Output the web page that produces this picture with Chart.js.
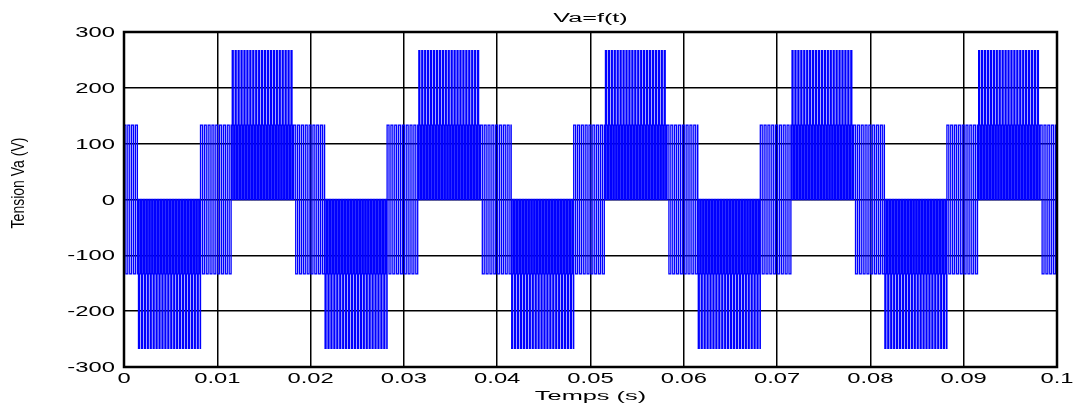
<!DOCTYPE html>
<html>
<head>
<meta charset="utf-8">
<title>Va=f(t)</title>
<script src="https://cdn.jsdelivr.net/npm/chart.js@4/dist/chart.umd.min.js"></script>
<style>
  html, body { margin: 0; padding: 0; background: #fff; }
  #wrap { width: 1074px; height: 405px; }
</style>
</head>
<body>
<div id="wrap"><canvas id="chart" width="1074" height="405"></canvas></div>
<script>
// Axis ticks and labels
const timeTicks = [0, 0.01, 0.02, 0.03, 0.04, 0.05, 0.06, 0.07, 0.08, 0.09, 0.1];
const timeLabels = ['0', '0.01', '0.02', '0.03', '0.04', '0.05', '0.06', '0.07', '0.08', '0.09', '0.1'];
const voltTicks = [-300, -200, -100, 0, 100, 200, 300];
const voltLabels = ['-300', '-200', '-100', '0', '100', '200', '300'];

// Switching sectors of the phase voltage (start time in s, kind of sector)
const sectorStart = [0, 0.0015, 0.0082, 0.01155, 0.0182, 0.0215, 0.0282, 0.03155, 0.0382,
                     0.0415, 0.0482, 0.05155, 0.0582, 0.0615, 0.0682, 0.07155, 0.0782,
                     0.0815, 0.0882, 0.09155, 0.0982];
const sectorKind = ['mid', 'neg', 'mid', 'pos', 'mid', 'neg', 'mid', 'pos', 'mid',
                    'neg', 'mid', 'pos', 'mid', 'neg', 'mid', 'pos', 'mid',
                    'neg', 'mid', 'pos', 'mid'];
const endTime = 0.1;

// Voltage levels visited in each kind of sector (V), one per switching step
const levelCycle = {
  mid: [133.3, -133.3],
  pos: [0, 266.7, 266.7, 133.3, 0, 133.3],
  neg: [0, -266.7, -266.7, -133.3, 0, -133.3]
};
// Switching step for each kind of sector (s)
const switchStep = { mid: 0.000205, pos: 0.0000525, neg: 0.0000525 };

// Step series: each point gives the level that holds from its time on
const vaPoints = [];
sectorStart.forEach((t0, i) => {
  const t1 = i + 1 < sectorStart.length ? sectorStart[i + 1] : endTime;
  const cycle = levelCycle[sectorKind[i]];
  const dt = switchStep[sectorKind[i]];
  let last = null;
  for (let k = 0; t0 + k * dt < t1 - 1e-9; k++) {
    const v = cycle[k % cycle.length];
    if (v !== last) vaPoints.push({ x: t0 + k * dt, y: v });
    last = v;
  }
});
vaPoints.push({ x: endTime, y: vaPoints[vaPoints.length - 1].y });

// Text drawn with a horizontal stretch, like the rest of the figure lettering
function stretchedText(ctx, text, x, y, align, font, sx) {
  ctx.save();
  ctx.font = font;
  ctx.textAlign = align;
  ctx.textBaseline = 'alphabetic';
  ctx.translate(x, y);
  ctx.scale(sx, 1);
  ctx.fillText(text, 0, 0);
  ctx.restore();
}

const framePlugin = {
  id: 'frameAndText',
  afterDraw(chart) {
    const { ctx, chartArea: a, scales } = chart;
    ctx.save();
    ctx.strokeStyle = '#000';
    ctx.lineWidth = 2.5;
    ctx.strokeRect(a.left, a.top, a.right - a.left, a.bottom - a.top);
    ctx.fillStyle = '#000';

    const tickFont = '14px "Liberation Sans", Arial, sans-serif';
    voltTicks.forEach((v, i) => {
      stretchedText(ctx, voltLabels[i], a.left - 9, scales.y.getPixelForValue(v) + 5, 'right', tickFont, 1.7);
    });
    timeTicks.forEach((v, i) => {
      stretchedText(ctx, timeLabels[i], scales.x.getPixelForValue(v), a.bottom + 15.5, 'center', tickFont, 1.7);
    });

    const midX = (a.left + a.right) / 2;
    stretchedText(ctx, 'Va=f(t)', midX, 22, 'center', '12px "Liberation Sans", Arial, sans-serif', 2.1);
    stretchedText(ctx, 'Temps (s)', midX, 400, 'center', '13px "Liberation Sans", Arial, sans-serif', 1.95);

    ctx.save();
    ctx.translate(19, 183);
    ctx.rotate(-Math.PI / 2);
    ctx.scale(1, 1.25);
    ctx.font = '14px "Liberation Sans Narrow", "Liberation Sans", Arial, sans-serif';
    ctx.textAlign = 'center';
    ctx.textBaseline = 'middle';
    ctx.fillText('Tension Va (V)', 0, 0);
    ctx.restore();
    ctx.restore();
  }
};

new Chart(document.getElementById('chart'), {
  type: 'line',
  data: {
    datasets: [{
      data: vaPoints,
      borderColor: '#0000ff',
      borderWidth: 1.3,
      pointRadius: 0,
      stepped: true,
      fill: false
    }]
  },
  options: {
    responsive: false,
    devicePixelRatio: 1,
    animation: false,
    parsing: false,
    normalized: true,
    layout: { padding: { left: 124, right: 17, top: 32, bottom: 38 } },
    plugins: { legend: { display: false }, tooltip: { enabled: false }, title: { display: false } },
    scales: {
      x: {
        type: 'linear',
        min: 0, max: 0.1,
        z: 1,
        afterBuildTicks: s => { s.ticks = timeTicks.map(v => ({ value: v })); },
        ticks: { display: false },
        grid: { color: '#000', lineWidth: 1.5, drawTicks: false },
        border: { display: false }
      },
      y: {
        type: 'linear',
        min: -300, max: 300,
        z: 1,
        afterBuildTicks: s => { s.ticks = voltTicks.map(v => ({ value: v })); },
        ticks: { display: false },
        grid: { color: '#000', lineWidth: 1.5, drawTicks: false },
        border: { display: false }
      }
    }
  },
  plugins: [framePlugin]
});
</script>
</body>
</html>
